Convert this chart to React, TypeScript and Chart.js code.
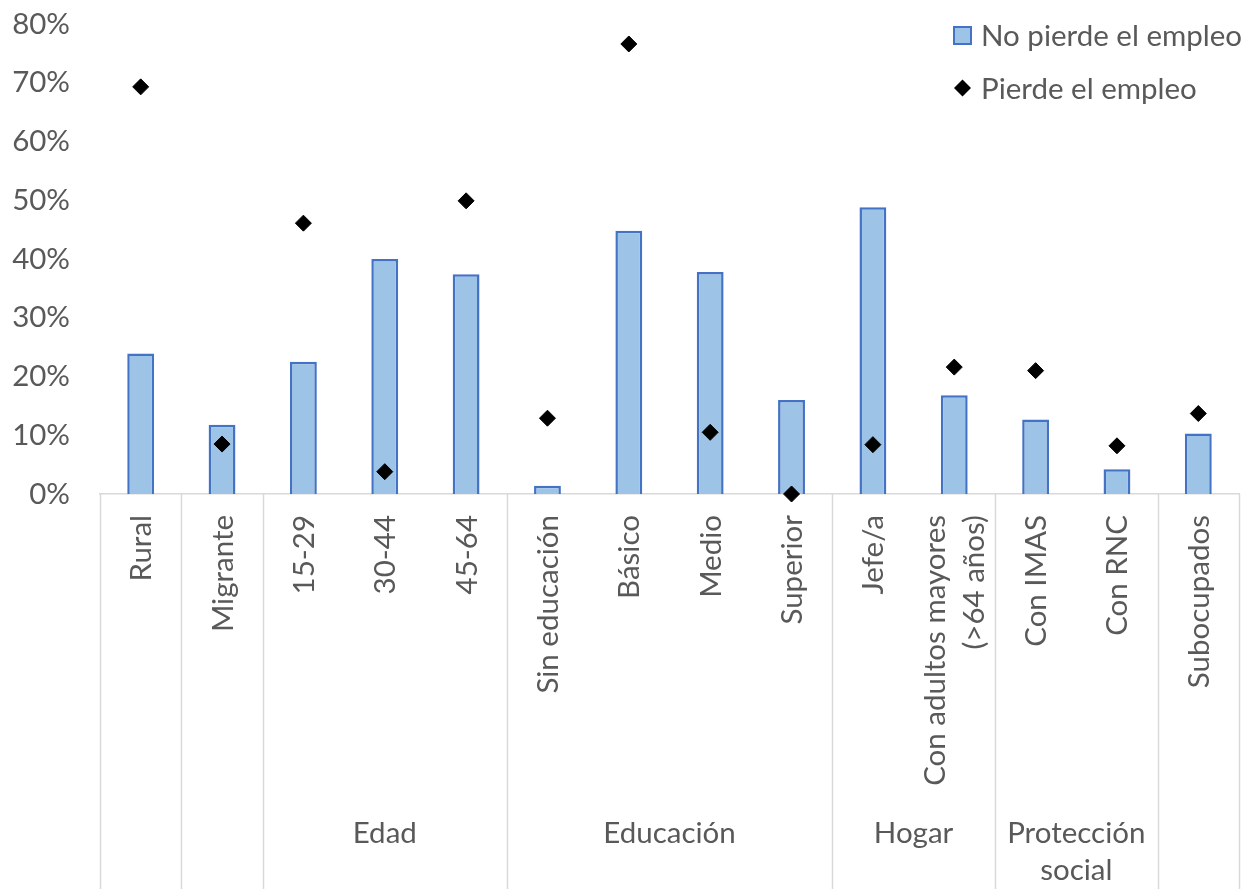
import React, { useEffect, useRef } from "react";
import { Chart, registerables } from "chart.js";

Chart.register(...registerables);

const categories: string[][] = [
  ["Rural"],
  ["Migrante"],
  ["15-29"],
  ["30-44"],
  ["45-64"],
  ["Sin educación"],
  ["Básico"],
  ["Medio"],
  ["Superior"],
  ["Jefe/a"],
  ["Con adultos mayores", "(>64 años)"],
  ["Con IMAS"],
  ["Con RNC"],
  ["Subocupados"],
];

const noPierde: number[] = [23.9, 11.8, 22.5, 40.0, 37.4, 1.4, 44.8, 37.8, 16.0, 48.8, 16.8, 12.7, 4.2, 10.3];
const pierde: number[] = [69.3, 8.5, 46.1, 3.8, 49.9, 12.9, 76.6, 10.5, 0, 8.4, 21.6, 21.0, 8.2, 13.7];

const groupLabels: string[][] = [[""], [""], ["Edad"], ["Educación"], ["Hogar"], ["Protección", "social"], [""]];
const groupSpans: number[] = [1, 1, 3, 4, 2, 2, 1];

const seriesNames: string[] = ["No pierde el empleo", "Pierde el empleo"];
const yTicks = { min: 0, max: 80, step: 10 };

const FONT = "Lato, 'Open Sans', sans-serif";
const FONT_SIZE = 29.5;
const TEXT = "#595959";
const GRID = "#D9D9D9";
const BAR_FILL = "#9DC3E6";
const BAR_BORDER = "#4472C4";

const axisPlugin = {
  id: "multiLevelAxis",
  afterDraw(chart: any) {
    const ctx = chart.ctx as CanvasRenderingContext2D;
    const x = chart.scales.x;
    const area = chart.chartArea;
    const bottom = chart.height;
    const n = categories.length;
    const px = (i: number) => x.getPixelForValue(i);
    const boundary = (i: number) => {
      if (i <= 0) return area.left;
      if (i >= n) return area.right;
      return (px(i - 1) + px(i)) / 2;
    };
    ctx.save();
    // separators between groups
    ctx.strokeStyle = GRID;
    ctx.lineWidth = 1.5;
    let idx = 0;
    const bounds = [0];
    groupSpans.forEach((s) => {
      idx += s;
      bounds.push(idx);
    });
    bounds.forEach((b) => {
      const bx = Math.round(boundary(b)) + 0.5;
      ctx.beginPath();
      ctx.moveTo(bx, area.bottom);
      ctx.lineTo(bx, bottom);
      ctx.stroke();
    });

    // level 1 rotated labels
    ctx.fillStyle = TEXT;
    ctx.font = `${FONT_SIZE}px ${FONT}`;
    ctx.textAlign = "right";
    ctx.textBaseline = "middle";
    const lineGap = 39;
    categories.forEach((lines, i) => {
      const cx = px(i);
      const k = lines.length;
      lines.forEach((t, j) => {
        const off = (j - (k - 1) / 2) * lineGap;
        ctx.save();
        ctx.translate(cx + off + 1, area.bottom + 21);
        ctx.rotate(-Math.PI / 2);
        ctx.fillText(t, 0, 0);
        ctx.restore();
      });
    });

    // group labels
    ctx.textAlign = "center";
    let start = 0;
    groupSpans.forEach((s, g) => {
      const cx = (px(start) + px(start + s - 1)) / 2;
      groupLabels[g].forEach((t, j) => {
        if (t) ctx.fillText(t, cx, area.bottom + 339 + j * 37);
      });
      start += s;
    });

    // legend
    ctx.textAlign = "left";
    const lx = 953;
    const ly1 = 35;
    const ly2 = 88;
    ctx.fillStyle = BAR_FILL;
    ctx.fillRect(lx + 1, ly1 - 8, 17, 17);
    ctx.strokeStyle = BAR_BORDER;
    ctx.lineWidth = 2;
    ctx.strokeRect(lx + 1, ly1 - 8, 17, 17);
    ctx.fillStyle = TEXT;
    ctx.fillText(seriesNames[0], lx + 28, ly1 + 1);
    ctx.fillStyle = "#000";
    ctx.beginPath();
    ctx.moveTo(lx + 9.5, ly2 - 8.5);
    ctx.lineTo(lx + 18, ly2);
    ctx.lineTo(lx + 9.5, ly2 + 8.5);
    ctx.lineTo(lx + 1, ly2);
    ctx.closePath();
    ctx.fill();
    ctx.fillStyle = TEXT;
    ctx.fillText(seriesNames[1], lx + 28, ly2 + 1);
    ctx.restore();
  },
};

export default function App() {
  const ref = useRef<HTMLCanvasElement | null>(null);
  useEffect(() => {
    if (!ref.current) return;
    const chart = new Chart(ref.current, {
      type: "bar",
      data: {
        labels: categories.map((c) => c.join(" ")),
        datasets: [
          {
            type: "line",
            label: seriesNames[1],
            data: pierde,
            showLine: false,
            pointStyle: "rectRot",
            pointRadius: 8,
            pointHoverRadius: 8,
            backgroundColor: "#000000",
            borderColor: "#000000",
            borderWidth: 1,
            clip: false,
            order: 0,
          } as any,
          {
            type: "bar",
            label: seriesNames[0],
            data: noPierde,
            backgroundColor: BAR_FILL,
            borderColor: BAR_BORDER,
            borderWidth: 2.5,
            categoryPercentage: 1,
            barPercentage: 0.33,
            order: 1,
          },
        ],
      },
      options: {
        animation: false,
        responsive: true,
        maintainAspectRatio: false,
        layout: { padding: { top: 24, right: 6, left: 0, bottom: 0 } },
        plugins: {
          legend: { display: false },
          tooltip: { enabled: false },
        },
        scales: {
          x: {
            type: "category",
            grid: { display: false, drawTicks: false },
            border: { display: true, color: GRID, width: 1.5 },
            ticks: { display: false },
            afterFit: (scale: any) => {
              scale.height = 395;
              scale.paddingLeft = 0;
              scale.paddingRight = 0;
            },
          },
          y: {
            min: yTicks.min,
            max: yTicks.max,
            grid: { display: false, drawTicks: false },
            border: { display: false },
            ticks: {
              stepSize: yTicks.step,
              padding: 30,
              color: TEXT,
              font: { family: FONT, size: FONT_SIZE },
              callback: (v: any) => `${v}%`,
            },
            afterFit: (scale: any) => {
              scale.width = 100;
              scale.paddingTop = 0;
              scale.paddingBottom = 0;
            },
          },
        },
      },
      plugins: [axisPlugin],
    });
    return () => chart.destroy();
  }, []);
  return (
    <div style={{ position: "absolute", left: 0, top: 0, width: 1248, height: 889, background: "#fff" }}>
      <canvas ref={ref} />
    </div>
  );
}
